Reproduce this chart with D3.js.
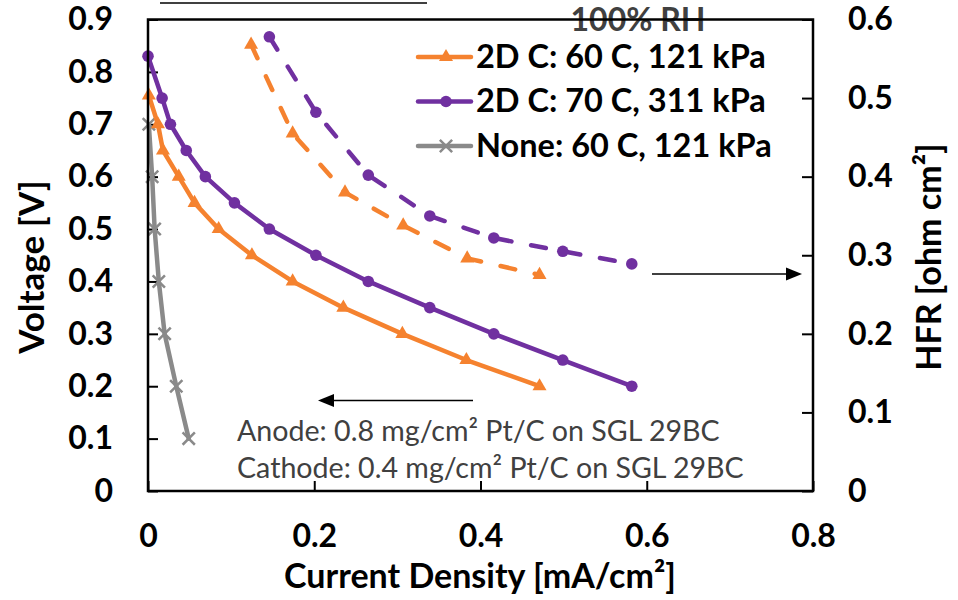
<!DOCTYPE html>
<html><head><meta charset="utf-8">
<script src="https://cdn.jsdelivr.net/npm/d3@7"></script>
<style>
body{margin:0;background:#fff}
svg text{font-family:Lato,'Open Sans',sans-serif}
</style>
</head><body>
<svg id="chart" width="958" height="600"></svg>
<script>
// ---- tick values / labels ----
const xTicks = [0, 0.2, 0.4, 0.6, 0.8];
const xTickLabels = ["0", "0.2", "0.4", "0.6", "0.8"];
const yLeftTicks = [0, 0.1, 0.2, 0.3, 0.4, 0.5, 0.6, 0.7, 0.8, 0.9];
const yLeftTickLabels = ["0", "0.1", "0.2", "0.3", "0.4", "0.5", "0.6", "0.7", "0.8", "0.9"];
const yRightTicks = [0, 0.1, 0.2, 0.3, 0.4, 0.5, 0.6];
const yRightTickLabels = ["0", "0.1", "0.2", "0.3", "0.4", "0.5", "0.6"];

// ---- series (current density mA/cm2, voltage V, HFR ohm cm2) ----
const seriesNames = ["2D C: 60 C, 121 kPa", "2D C: 70 C, 311 kPa", "None: 60 C, 121 kPa"];
const orangeCurrent = [0.001, 0.012, 0.018, 0.037, 0.056, 0.085, 0.125, 0.174, 0.235, 0.306, 0.383, 0.471];
const orangeVoltage = [0.755, 0.70, 0.65, 0.60, 0.55, 0.50, 0.45, 0.40, 0.35, 0.30, 0.25, 0.20];
const purpleCurrent = [0, 0.017, 0.027, 0.046, 0.069, 0.104, 0.146, 0.202, 0.265, 0.339, 0.416, 0.499, 0.582];
const purpleVoltage = [0.83, 0.75, 0.70, 0.65, 0.60, 0.55, 0.50, 0.45, 0.40, 0.35, 0.30, 0.25, 0.20];
const grayCurrent = [0.001, 0.005, 0.008, 0.013, 0.020, 0.034, 0.049];
const grayVoltage = [0.70, 0.60, 0.50, 0.40, 0.30, 0.20, 0.10];
const orangeHfrCurrent = [0.124, 0.174, 0.237, 0.307, 0.384, 0.471];
const orangeHfr = [0.568, 0.455, 0.380, 0.338, 0.296, 0.275];
const purpleHfrCurrent = [0.146, 0.202, 0.265, 0.339, 0.416, 0.499, 0.582];
const purpleHfr = [0.578, 0.482, 0.402, 0.350, 0.322, 0.305, 0.289];

const annotationLines = ["Anode: 0.8 mg/cm\u00B2 Pt/C on SGL 29BC", "Cathode: 0.4 mg/cm\u00B2 Pt/C on SGL 29BC"];

const ORANGE = "#F5822F", PURPLE = "#7030A0", GRAY = "#8A8A8A", DARK = "#404040";

const svg = d3.select("#chart");
const L = 148, R = 813, T = 19.5, B = 491;
const x = d3.scaleLinear().domain([0, 0.8]).range([L, R]);
const yL = d3.scaleLinear().domain([0, 0.9]).range([B, T]);
const yR = d3.scaleLinear().domain([0, 0.6]).range([B, T]);

const zip = (a, b) => a.map((v, i) => [v, b[i]]);

// stray top line (clipped title underline)
svg.append("line").attr("x1", 160).attr("x2", 427).attr("y1", 3).attr("y2", 3)
  .attr("stroke", DARK).attr("stroke-width", 2);

// "100% RH"
svg.append("text").attr("x", 638).attr("y", 31).attr("text-anchor", "middle")
  .attr("font-size", 32).attr("font-weight", 700).attr("fill", DARK).text("100% RH");

// axes
const axStyle = g => {
  g.select(".domain").remove();
  g.selectAll(".tick line").attr("stroke", "#000").attr("stroke-width", 2);
  g.selectAll(".tick text").attr("font-size", 32).attr("font-weight", 700).attr("fill", "#000")
    .attr("font-family", "Lato, 'Open Sans', sans-serif");
};
svg.append("g").attr("transform", `translate(0,${B})`)
  .call(d3.axisBottom(x).tickValues(xTicks).tickFormat((d, i) => xTickLabels[i]).tickSize(-10).tickPadding(33))
  .call(axStyle);
svg.append("g").attr("transform", `translate(${L},0)`)
  .call(d3.axisLeft(yL).tickValues(yLeftTicks).tickFormat((d, i) => yLeftTickLabels[i]).tickSize(-10).tickPadding(35))
  .call(axStyle);
svg.append("g").attr("transform", `translate(${R},0)`)
  .call(d3.axisRight(yR).tickValues(yRightTicks).tickFormat((d, i) => yRightTickLabels[i]).tickSize(-11).tickPadding(35))
  .call(axStyle);

// axis titles
svg.append("text").attr("transform", `translate(44,267) rotate(-90)`).attr("text-anchor", "middle")
  .attr("font-size", 35).attr("font-weight", 700).text("Voltage [V]");
svg.append("text").attr("transform", `translate(941,257) rotate(-90)`).attr("text-anchor", "middle")
  .attr("font-size", 34).attr("font-weight", 700).text("HFR [ohm cm\u00B2]");
svg.append("text").attr("x", 480).attr("y", 588).attr("text-anchor", "middle")
  .attr("font-size", 34).attr("font-weight", 700).text("Current Density [mA/cm\u00B2]");

// annotations
annotationLines.forEach((t, i) => {
  svg.append("text").attr("x", 237).attr("y", 441 + i * 37).attr("font-size", 28.6)
    .attr("fill", DARK).text(t);
});

// arrows
const arrow = (x1, x2, yy) => {
  svg.append("line").attr("x1", x1).attr("x2", x2 + (x2 > x1 ? -14 : 14)).attr("y1", yy).attr("y2", yy)
    .attr("stroke", "#000").attr("stroke-width", 1.5);
  const d = x2 > x1 ? -16 : 16;
  svg.append("path").attr("d", `M${x2},${yy}L${x2 + d},${yy - 6.5}L${x2 + d},${yy + 6.5}Z`).attr("fill", "#000");
};
arrow(473, 318, 400.5);
arrow(652, 802, 274);

// lines
const line = d3.line();
const triangle = d3.symbol(d3.symbolTriangle, 85);
const times = d3.symbol(d3.symbolTimes, 100);

function drawMarker(g, px, py, color, marker) {
  if (marker === "circle") g.append("circle").attr("cx", px).attr("cy", py).attr("r", 5.8).attr("fill", color);
  else if (marker === "tri") g.append("path").attr("d", triangle()).attr("transform", `translate(${px},${py})`).attr("fill", color);
  else g.append("path").attr("d", times()).attr("transform", `translate(${px},${py})`).attr("stroke", color).attr("stroke-width", 2.5).attr("fill", "none");
}

function drawSeries(pts, color, dashed, marker) {
  svg.append("path").attr("d", line(pts)).attr("fill", "none").attr("stroke", color)
    .attr("stroke-width", 4.5).attr("stroke-linecap", "round").attr("stroke-linejoin", "round")
    .attr("stroke-dasharray", dashed ? "15 20" : null);
  const g = svg.append("g");
  pts.forEach(p => drawMarker(g, p[0], p[1], color, marker));
}

drawSeries(zip(orangeHfrCurrent, orangeHfr).map(d => [x(d[0]), yR(d[1])]), ORANGE, true, "tri");
drawSeries(zip(purpleHfrCurrent, purpleHfr).map(d => [x(d[0]), yR(d[1])]), PURPLE, true, "circle");
drawSeries(zip(grayCurrent, grayVoltage).map(d => [x(d[0]), yL(d[1])]), GRAY, false, "x");
drawSeries(zip(orangeCurrent, orangeVoltage).map(d => [x(d[0]), yL(d[1])]), ORANGE, false, "tri");
drawSeries(zip(purpleCurrent, purpleVoltage).map(d => [x(d[0]), yL(d[1])]), PURPLE, false, "circle");

// frame
svg.append("rect").attr("x", L).attr("y", T).attr("width", R - L).attr("height", B - T)
  .attr("fill", "none").attr("stroke", "#000").attr("stroke-width", 2.5);

// legend
const legendColors = [ORANGE, PURPLE, GRAY];
const legendMarkers = ["tri", "circle", "x"];
seriesNames.forEach((name, i) => {
  const yy = 57 + i * 44.5;
  svg.append("line").attr("x1", 418).attr("x2", 471).attr("y1", yy).attr("y2", yy)
    .attr("stroke", legendColors[i]).attr("stroke-width", 4.5).attr("stroke-linecap", "round");
  drawMarker(svg, 446, yy, legendColors[i], legendMarkers[i]);
  svg.append("text").attr("x", 476).attr("y", yy + 10.5).attr("font-size", 32.5).attr("font-weight", 700).text(name);
});
</script>
</body></html>
